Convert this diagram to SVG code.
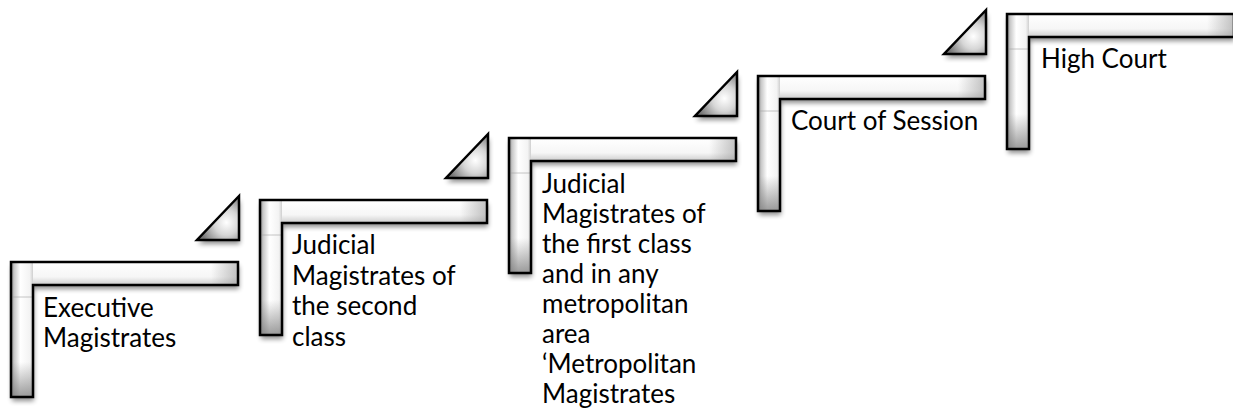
<svg xmlns="http://www.w3.org/2000/svg" xmlns:xlink="http://www.w3.org/1999/xlink" width="1233" height="411" viewBox="0 0 1233 411">
  <style>
    .label { font-family: Lato, "Liberation Sans", sans-serif; font-size: 26px; fill: #000; }
    .outline { fill: none; stroke: #000; stroke-width: 2.5; stroke-linejoin: miter; }
    .shadow { fill: #000; opacity: 0.45; filter: url(#soft); }
    .tri { fill: url(#triFill); stroke: #000; stroke-width: 2.5; stroke-linejoin: miter; }
  </style>
  <defs>
    <filter id="soft" x="-20%" y="-20%" width="140%" height="140%">
      <feGaussianBlur stdDeviation="2.5"/>
    </filter>
    <!-- L-shaped step outline in local coordinates -->
    <path id="lshape" d="M0 0 H227 V23 H22 V135 H0 Z"/>
    <path id="tshape" d="M186 -22 H228 V-66 Z"/>
    <!-- metallic column shading -->
    <linearGradient id="colFill" x1="0" y1="0" x2="1" y2="0">
      <stop offset="0" stop-color="#8a8a8a"/>
      <stop offset="0.15" stop-color="#c9c9c9"/>
      <stop offset="0.42" stop-color="#ffffff"/>
      <stop offset="0.85" stop-color="#f3f3f3"/>
      <stop offset="1" stop-color="#cfcfcf"/>
    </linearGradient>
    <linearGradient id="colFoot" x1="0" y1="0" x2="0" y2="1">
      <stop offset="0" stop-color="#7a7a7a" stop-opacity="0"/>
      <stop offset="1" stop-color="#7a7a7a" stop-opacity="0.75"/>
    </linearGradient>
    <linearGradient id="barFill" x1="0" y1="0" x2="0" y2="1">
      <stop offset="0" stop-color="#ffffff"/>
      <stop offset="0.65" stop-color="#f6f6f6"/>
      <stop offset="1" stop-color="#cdcdcd"/>
    </linearGradient>
    <linearGradient id="barEnd" x1="0" y1="0" x2="1" y2="0">
      <stop offset="0" stop-color="#9a9a9a" stop-opacity="0"/>
      <stop offset="1" stop-color="#9a9a9a" stop-opacity="0.6"/>
    </linearGradient>
    <radialGradient id="triFill" cx="0.7" cy="0.6" r="0.65">
      <stop offset="0" stop-color="#ffffff"/>
      <stop offset="0.45" stop-color="#d6d6d6"/>
      <stop offset="1" stop-color="#767676"/>
    </radialGradient>
    <!-- one complete step: shadow, shaded body, outline -->
    <g id="step">
      <use xlink:href="#lshape" class="shadow" transform="translate(1,4)"/>
      <rect x="22" y="0" width="205" height="23" fill="url(#barFill)"/>
      <rect x="200" y="0" width="27" height="23" fill="url(#barEnd)"/>
      <rect x="0" y="0" width="22" height="135" fill="url(#colFill)"/>
      <rect x="0" y="100" width="22" height="35" fill="url(#colFoot)"/>
      <line x1="1" y1="35" x2="21" y2="35" stroke="#a0a0a0" stroke-width="1" opacity="0.6"/>
      <use xlink:href="#lshape" class="outline"/>
    </g>
    <g id="arrow">
      <use xlink:href="#tshape" class="shadow" transform="translate(1,4)"/>
      <use xlink:href="#tshape" class="tri"/>
    </g>
  </defs>

  <g id="step1" transform="translate(11,262)">
    <use xlink:href="#step"/>
    <use xlink:href="#arrow"/>
    <text class="label" x="32" y="55">Executive</text>
    <text class="label" x="32" y="85">Magistrates</text>
  </g>

  <g id="step2" transform="translate(260,200)">
    <use xlink:href="#step"/>
    <use xlink:href="#arrow"/>
    <text class="label" x="32" y="54">Judicial</text>
    <text class="label" x="32" y="84.5">Magistrates of</text>
    <text class="label" x="32" y="115">the second</text>
    <text class="label" x="32" y="145.5">class</text>
  </g>

  <g id="step3" transform="translate(509,138)">
    <use xlink:href="#step"/>
    <use xlink:href="#arrow"/>
    <text class="label" x="33" y="55">Judicial</text>
    <text class="label" x="33" y="85">Magistrates of</text>
    <text class="label" x="33" y="115">the first class</text>
    <text class="label" x="33" y="145">and in any</text>
    <text class="label" x="33" y="175">metropolitan</text>
    <text class="label" x="33" y="205">area</text>
    <text class="label" x="33" y="235">‘Metropolitan</text>
    <text class="label" x="33" y="265">Magistrates</text>
  </g>

  <g id="step4" transform="translate(758,76)">
    <use xlink:href="#step"/>
    <use xlink:href="#arrow"/>
    <text class="label" x="33" y="54">Court of Session</text>
  </g>

  <g id="step5" transform="translate(1007,14)">
    <use xlink:href="#step"/>
    <text class="label" x="34" y="54">High Court</text>
  </g>

  <g id="connectors"/>
</svg>
